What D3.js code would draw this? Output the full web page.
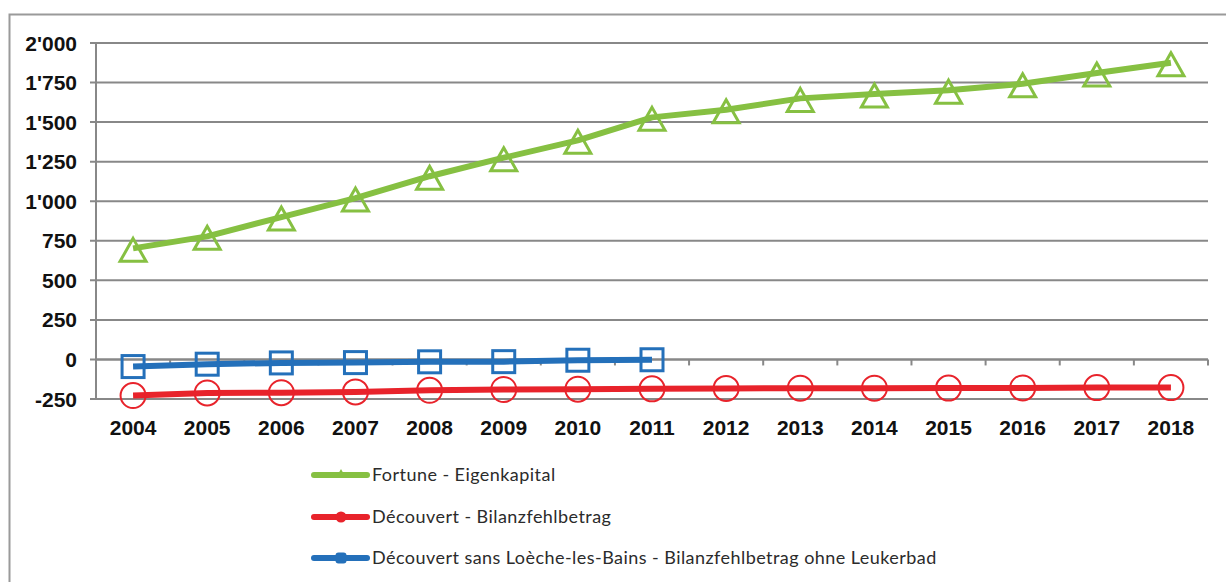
<!DOCTYPE html>
<html>
<head>
<meta charset="utf-8">
<script src="https://cdn.jsdelivr.net/npm/d3@7"></script>
<style>
  body { margin: 0; background: #fff; }
  svg { display: block; }
</style>
</head>
<body>
<div id="chart"></div>
<script>
// values
var years = ["2004","2005","2006","2007","2008","2009","2010","2011","2012","2013","2014","2015","2016","2017","2018"];
var fortune = [702, 778, 900, 1020, 1158, 1275, 1385, 1530, 1578, 1650, 1678, 1702, 1742, 1810, 1875];
var decouvert = [-228, -212, -210, -205, -195, -190, -188, -186, -183, -182, -182, -181, -180, -178, -178];
var sansLoeche = [-45, -30, -22, -20, -15, -14, -5, -2];
var yTicks = [-250, 0, 250, 500, 750, 1000, 1250, 1500, 1750, 2000];
var seriesNames = ["Fortune - Eigenkapital", "Découvert - Bilanzfehlbetrag", "Découvert sans Loèche-les-Bains - Bilanzfehlbetrag ohne Leukerbad"];

var width = 1226, height = 582;
var green = "#86c042", red = "#e8232b", blue = "#2470ba";

var svg = d3.select("#chart").append("svg")
    .attr("width", width)
    .attr("height", height);

// outer frame
svg.append("rect")
    .attr("x", 9.5).attr("y", 14.5)
    .attr("width", 1240).attr("height", 600)
    .attr("fill", "none")
    .attr("stroke", "#9a9a9a")
    .attr("stroke-width", 2);

var x = d3.scaleBand()
    .domain(years)
    .range([96, 1208]);

var y = d3.scaleLinear()
    .domain([-250, 2000])
    .range([399, 43]);

// swiss style thousands: 1'750, plain hyphen for negatives
var fmt = function(v) { return d3.format(",")(v).replace(/,/g, "'").replace("\u2212", "-"); };

svg.append("g")
    .selectAll("line")
    .data(yTicks)
    .enter()
    .append("line")
    .attr("x1", 90).attr("x2", 1208)
    .attr("y1", function(d) { return y(d); })
    .attr("y2", function(d) { return y(d); })
    .attr("stroke", "#888")
    .attr("stroke-width", 2);

svg.append("g")
    .selectAll("text")
    .data(yTicks)
    .enter()
    .append("text")
    .attr("x", 77)
    .attr("y", function(d) { return y(d); })
    .attr("dy", "0.36em")
    .attr("text-anchor", "end")
    .attr("font-family", "'Liberation Sans', Arial, sans-serif")
    .attr("font-weight", "bold")
    .attr("font-size", "21px")
    .attr("fill", "#111")
    .text(fmt);

// y axis line
svg.append("line")
    .attr("x1", 96).attr("x2", 96)
    .attr("y1", y(2000)).attr("y2", y(-250))
    .attr("stroke", "#888")
    .attr("stroke-width", 2);

// x axis on zero with ticks between categories
var xAxis = svg.append("g")
    .attr("transform", "translate(0," + y(0) + ")");
xAxis.append("line")
    .attr("x1", 96).attr("x2", 1208)
    .attr("stroke", "#888")
    .attr("stroke-width", 2);
xAxis.selectAll(".tk")
    .data(years.slice(1).concat(["end"]))
    .enter()
    .append("line")
    .attr("class", "tk")
    .attr("x1", function(d) { return d == "end" ? 1208 : x(d); })
    .attr("x2", function(d) { return d == "end" ? 1208 : x(d); })
    .attr("y1", 0).attr("y2", 6)
    .attr("stroke", "#888")
    .attr("stroke-width", 2);

svg.append("g")
    .selectAll("text")
    .data(years)
    .enter()
    .append("text")
    .attr("x", function(d) { return x(d) + x.bandwidth() / 2; })
    .attr("y", 427)
    .attr("dy", "0.36em")
    .attr("text-anchor", "middle")
    .attr("font-family", "'Liberation Sans', Arial, sans-serif")
    .attr("font-weight", "bold")
    .attr("font-size", "21px")
    .attr("fill", "#111")
    .text(function(d) { return d; });

var cx = function(d, i) { return x(years[i]) + x.bandwidth() / 2; };
var line = d3.line()
    .x(function(d, i) { return cx(d, i); })
    .y(function(d) { return y(d); });

// open triangle like the excel marker, sits a bit below the point
var triPath = "M0,-10L13,13L-13,13Z";

function drawSeries(data, color, kind) {
  svg.append("path")
      .datum(data)
      .attr("d", line)
      .attr("fill", "none")
      .attr("stroke", color)
      .attr("stroke-width", 6)
      .attr("stroke-linejoin", "round");

  var g = svg.append("g");
  data.forEach(function(d, i) {
    var px = cx(d, i), py = y(d);
    if (kind == "triangle") {
      g.append("path")
        .attr("d", triPath)
        .attr("transform", "translate(" + px + "," + py + ")")
        .attr("fill", "none")
        .attr("stroke", color)
        .attr("stroke-width", 3)
        .attr("stroke-linejoin", "miter");
    } else if (kind == "circle") {
      g.append("circle")
        .attr("cx", px).attr("cy", py)
        .attr("r", 12.5)
        .attr("fill", "none")
        .attr("stroke", color)
        .attr("stroke-width", 2);
    } else {
      g.append("rect")
        .attr("x", px - 11).attr("y", py - 11)
        .attr("width", 22).attr("height", 22)
        .attr("fill", "none")
        .attr("stroke", color)
        .attr("stroke-width", 3);
    }
  });
}

drawSeries(decouvert, red, "circle");
drawSeries(sansLoeche, blue, "square");
drawSeries(fortune, green, "triangle");

// legend
var legendColors = [green, red, blue];
var legendY = [475, 517, 558];
var lg = svg.append("g");
seriesNames.forEach(function(name, i) {
  var ly = legendY[i];
  lg.append("line")
    .attr("x1", 314).attr("x2", 367)
    .attr("y1", ly).attr("y2", ly)
    .attr("stroke", legendColors[i])
    .attr("stroke-width", 6)
    .attr("stroke-linecap", "round");
  if (i == 0) {
    lg.append("path")
      .attr("d", "M0,-6L5,3L-5,3Z")
      .attr("transform", "translate(341," + ly + ")")
      .attr("fill", legendColors[i]);
  } else if (i == 1) {
    lg.append("circle")
      .attr("cx", 341).attr("cy", ly).attr("r", 5.5)
      .attr("fill", legendColors[i]);
  } else {
    lg.append("rect")
      .attr("x", 335.5).attr("y", ly - 5.5)
      .attr("width", 11).attr("height", 11).attr("rx", 3)
      .attr("fill", legendColors[i]);
  }
  lg.append("text")
    .attr("x", 372)
    .attr("y", ly)
    .attr("dy", "0.35em")
    .attr("font-family", "Lato, 'Open Sans', sans-serif")
    .attr("font-size", "18px")
    .attr("letter-spacing", "0.45px")
    .attr("fill", "#2b2b2b")
    .text(name);
});
</script>
</body>
</html>
